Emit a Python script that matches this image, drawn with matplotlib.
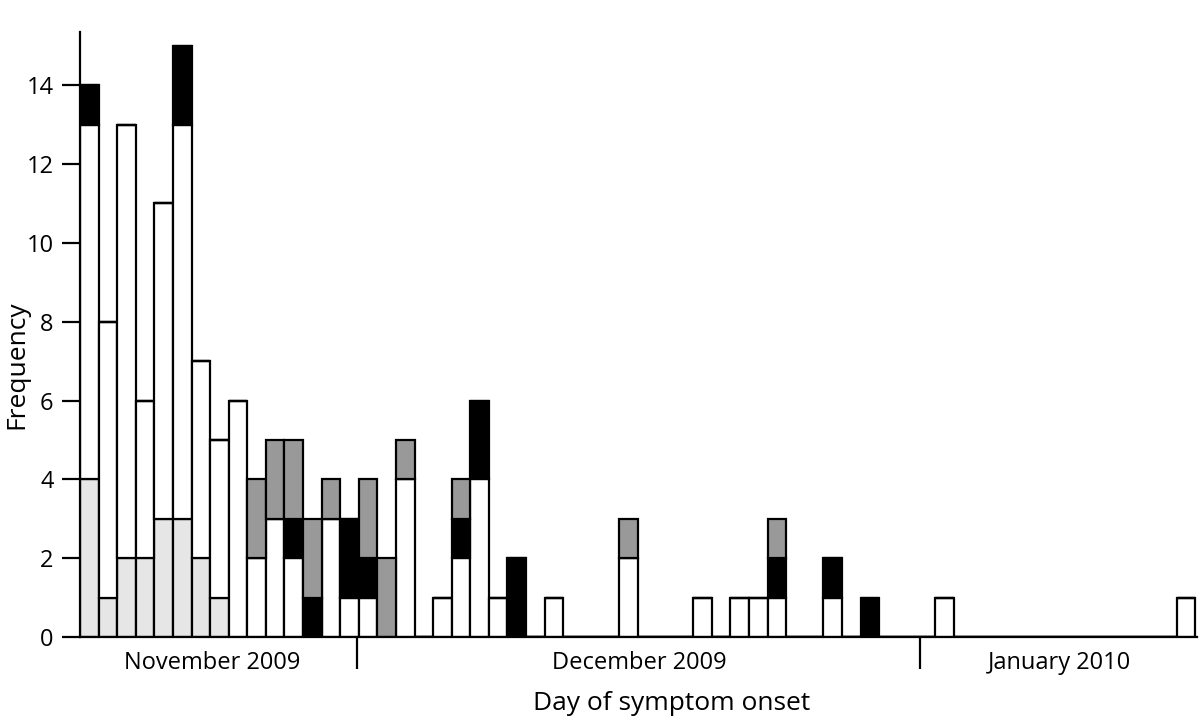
import numpy as np
import matplotlib.pyplot as plt

plt.rcParams['font.family'] = ['Open Sans', 'DejaVu Sans']

# one bar per day, 60 days starting at the beginning of the series
n_days = 60
light = np.zeros(n_days)
white = np.zeros(n_days)
gray = np.zeros(n_days)
black = np.zeros(n_days)

# stacking order (bottom to top): light grey, white, black, grey
light_days = [0, 1, 2, 3, 4, 5, 6, 7]
light_vals = [4, 1, 2, 2, 3, 3, 2, 1]

white_days = [0, 1, 2, 3, 4, 5, 6, 7, 8, 9, 10, 11, 13, 14, 15, 17, 19, 20, 21,
              22, 25, 29, 33, 35, 36, 37, 40, 46, 59]
white_vals = [9, 7, 11, 4, 8, 10, 5, 4, 6, 2, 3, 2, 3, 1, 1, 4, 1, 2, 4,
              1, 1, 2, 1, 1, 1, 1, 1, 1, 1]

black_days = [0, 5, 11, 12, 14, 15, 20, 21, 23, 37, 40, 42]
black_vals = [1, 2, 1, 1, 2, 1, 1, 2, 2, 1, 1, 1]

gray_days = [9, 10, 11, 12, 13, 15, 16, 17, 20, 29, 37]
gray_vals = [2, 2, 2, 2, 1, 2, 2, 1, 1, 1, 1]

light[light_days] = light_vals
white[white_days] = white_vals
black[black_days] = black_vals
gray[gray_days] = gray_vals

month_bounds = [14.9, 45.2]
month_labels = ['November 2009', 'December 2009', 'January 2010']
month_label_x = [7.1, 30.1, 52.7]

fig = plt.figure(figsize=(12, 7.23), dpi=100)
ax = fig.add_axes([80 / 1200, 86 / 723, 1117 / 1200, 605 / 723])

x = np.arange(n_days)
kw = dict(width=1, align='edge', edgecolor='black', linewidth=1.6)
ax.bar(x, light, color='#e6e6e6', **kw)
ax.bar(x, white, bottom=light, color='white', **kw)
ax.bar(x, black, bottom=light + white, color='black', **kw)
ax.bar(x, gray, bottom=light + white + black, color='#999999', **kw)

ax.set_xlim(0, 60.1)
ax.set_ylim(0, 15.35)
ax.set_yticks(range(0, 15, 2))
ax.tick_params(axis='y', direction='out', length=13, width=1.6, labelsize=17, pad=6)
ax.set_xticks(month_bounds)
ax.set_xticklabels([])
ax.tick_params(axis='x', direction='out', length=23, width=1.6)

# month names under the axis
for lx, lab in zip(month_label_x, month_labels):
    ax.text(lx, -0.35, lab, ha='center', va='top', fontsize=17)

for s in ['top', 'right']:
    ax.spines[s].set_visible(False)
for s in ['left', 'bottom']:
    ax.spines[s].set_linewidth(1.6)

fig.text(672 / 1200, 1 - 704 / 723, 'Day of symptom onset', fontsize=19,
         ha='center', va='center')
fig.text(17 / 1200, 1 - 365 / 723, 'Frequency', fontsize=19, rotation=90,
         ha='center', va='center')

fig.savefig('out.png', dpi=100)
